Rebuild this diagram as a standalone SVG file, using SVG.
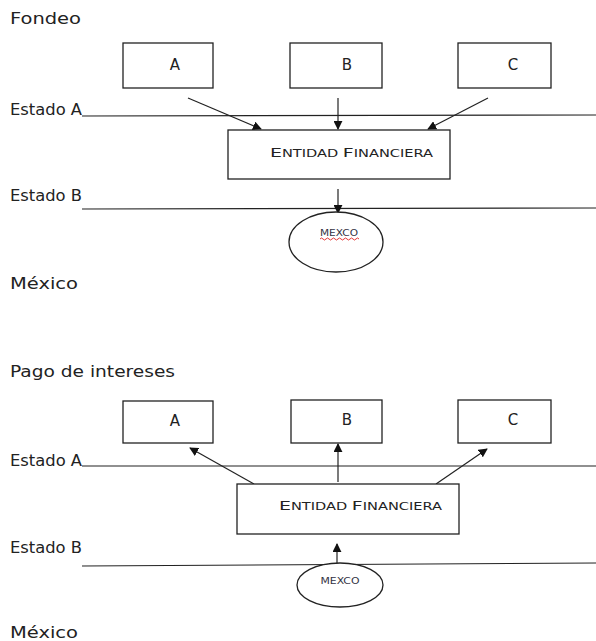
<svg xmlns="http://www.w3.org/2000/svg" width="596" height="641" viewBox="0 0 596 641">
<style>
.lbl{font-family:"DejaVu Sans","Liberation Sans",sans-serif;font-size:16px;fill:#222}
.box{fill:#fff;stroke:#222;stroke-width:1.3}
.ln{stroke:#222;stroke-width:1.2;fill:none}
.arr{stroke:#222;stroke-width:1.2;fill:none;marker-end:url(#ah)}
.nt{font-family:"DejaVu Sans","Liberation Sans",sans-serif;font-size:15px;fill:#222;text-anchor:middle}
.ef{font-family:"DejaVu Sans","Liberation Sans",sans-serif;fill:#222}
.mx{font-family:"DejaVu Sans","Liberation Sans",sans-serif;font-size:8px;fill:#334;text-anchor:middle}
</style>
<defs>
<marker id="ah" viewBox="0 0 10 10" refX="9" refY="5" markerWidth="9" markerHeight="9" markerUnits="userSpaceOnUse" orient="auto">
<path d="M0,0 L10,5 L0,10 z" fill="#111"/>
</marker>
</defs>
<rect width="596" height="641" fill="#fff"/>
<g id="labels">
<text class="lbl" x="10" y="24" textLength="71" lengthAdjust="spacingAndGlyphs">Fondeo</text>
<text class="lbl" x="10" y="115" textLength="72" lengthAdjust="spacingAndGlyphs">Estado A</text>
<text class="lbl" x="10" y="201" textLength="72" lengthAdjust="spacingAndGlyphs">Estado B</text>
<text class="lbl" x="10" y="289" textLength="68" lengthAdjust="spacingAndGlyphs">México</text>
<text class="lbl" x="10" y="377" textLength="165" lengthAdjust="spacingAndGlyphs">Pago de intereses</text>
<text class="lbl" x="10" y="466" textLength="72" lengthAdjust="spacingAndGlyphs">Estado A</text>
<text class="lbl" x="10" y="553" textLength="72" lengthAdjust="spacingAndGlyphs">Estado B</text>
<text class="lbl" x="10" y="638" textLength="68" lengthAdjust="spacingAndGlyphs">México</text>
</g>
<g id="connectors">
<line class="ln" x1="82" y1="116" x2="596" y2="115"/>
<line class="ln" x1="82" y1="209" x2="596" y2="208"/>
<line class="ln" x1="82" y1="466" x2="596" y2="466"/>
<line class="ln" x1="82" y1="566" x2="596" y2="563"/>
<line class="arr" x1="188" y1="98" x2="261" y2="129"/>
<line class="arr" x1="338" y1="98" x2="338" y2="129"/>
<line class="arr" x1="488" y1="98" x2="428" y2="129"/>
<line class="arr" x1="338" y1="189" x2="338" y2="213"/>
<line class="arr" x1="254" y1="484" x2="190" y2="448"/>
<line class="arr" x1="338" y1="482" x2="338" y2="444"/>
<line class="arr" x1="436" y1="484" x2="487" y2="449"/>
<line class="arr" x1="337" y1="565" x2="337" y2="544"/>
</g>
<g id="top-A"><rect class="box" x="123" y="43" width="90" height="45"/><text class="nt" x="175" y="70">A</text></g>
<g id="top-B"><rect class="box" x="290" y="43" width="92" height="45"/><text class="nt" x="347" y="70">B</text></g>
<g id="top-C"><rect class="box" x="458" y="43" width="93" height="45"/><text class="nt" x="513" y="70">C</text></g>
<g id="top-entidad"><rect class="box" x="228" y="130" width="222" height="49"/>
<text class="ef" x="270" y="157" textLength="163" lengthAdjust="spacingAndGlyphs"><tspan font-size="13">E</tspan><tspan font-size="10">NTIDAD </tspan><tspan font-size="13">F</tspan><tspan font-size="10">INANCIERA</tspan></text></g>
<g id="top-mexico"><ellipse class="box" cx="336" cy="242" rx="47" ry="30"/>
<text class="mx" x="339" y="236" textLength="38" lengthAdjust="spacingAndGlyphs">MEXCO</text>
<path d="M320,239 q1.5,-2 3,0 t3,0 t3,0 t3,0 t3,0 t3,0 t3,0 t3,0 t3,0 t3,0 t3,0 t3,0 t3,0" fill="none" stroke="#e02020" stroke-width="0.9"/></g>
<g id="bot-A"><rect class="box" x="123" y="401" width="90" height="42"/><text class="nt" x="175" y="426">A</text></g>
<g id="bot-B"><rect class="box" x="291" y="400" width="91" height="43"/><text class="nt" x="347" y="425">B</text></g>
<g id="bot-C"><rect class="box" x="458" y="400" width="93" height="43"/><text class="nt" x="513" y="425">C</text></g>
<g id="bot-entidad"><rect class="box" x="237" y="484" width="222" height="50"/>
<text class="ef" x="279" y="510" textLength="163" lengthAdjust="spacingAndGlyphs"><tspan font-size="13">E</tspan><tspan font-size="10">NTIDAD </tspan><tspan font-size="13">F</tspan><tspan font-size="10">INANCIERA</tspan></text></g>
<g id="bot-mexico"><ellipse class="box" cx="340" cy="585" rx="43" ry="22"/>
<text class="mx" x="340" y="584" textLength="39" lengthAdjust="spacingAndGlyphs">MEXCO</text></g>
</svg>
